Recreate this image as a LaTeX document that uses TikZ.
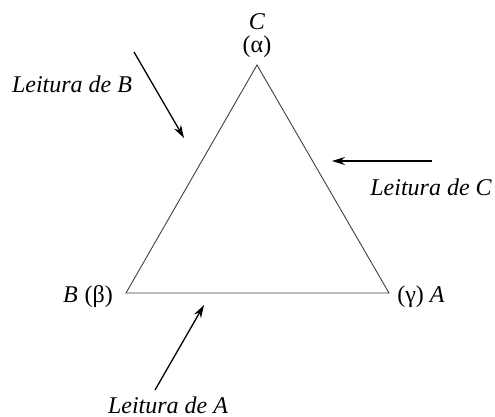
\documentclass[tikz,border=0pt]{standalone}
\usepackage{fontspec}
\setmainfont{Liberation Serif}
\usetikzlibrary{arrows.meta}
\begin{document}
\begin{tikzpicture}[x=1pt,y=-1pt,
  lbl/.style={font=\fontsize{24}{28}\selectfont, inner sep=0pt},
  side/.style={draw=black!75, line width=0.9pt},
  readarrow/.style={draw=black, line width=1.3pt, -{Stealth[length=13pt,width=8pt]}}]
\useasboundingbox (0,0) rectangle (495,417);
\coordinate (C) at (257,65);
\coordinate (B) at (126,293);
\coordinate (A) at (389,293);
\draw[side] (B) -- (A) -- (C) -- cycle;
\node[lbl] (lC) at (257,22) {\itshape C};
\node[lbl] (la) at (257,47) {(α)};
\node[lbl] (lB) at (88,297) {\itshape B\hspace{7pt}\upshape (β)};
\node[lbl] (lA) at (421,297) {(γ) \itshape A};
\node[lbl] (rB) at (72,84) {\itshape Leitura de B};
\node[lbl] (rC) at (431,187) {\itshape Leitura de C};
\node[lbl] (rA) at (168,405) {\itshape Leitura de A};
\coordinate (b1) at (134,52);
\coordinate (b2) at (184,138);
\coordinate (c1) at (432,161);
\coordinate (c2) at (332,161);
\coordinate (a1) at (155,390);
\coordinate (a2) at (204,305);
\draw[readarrow] (b1) -- (b2);
\draw[readarrow] (c1) -- (c2);
\draw[readarrow] (a1) -- (a2);
\end{tikzpicture}
\end{document}
